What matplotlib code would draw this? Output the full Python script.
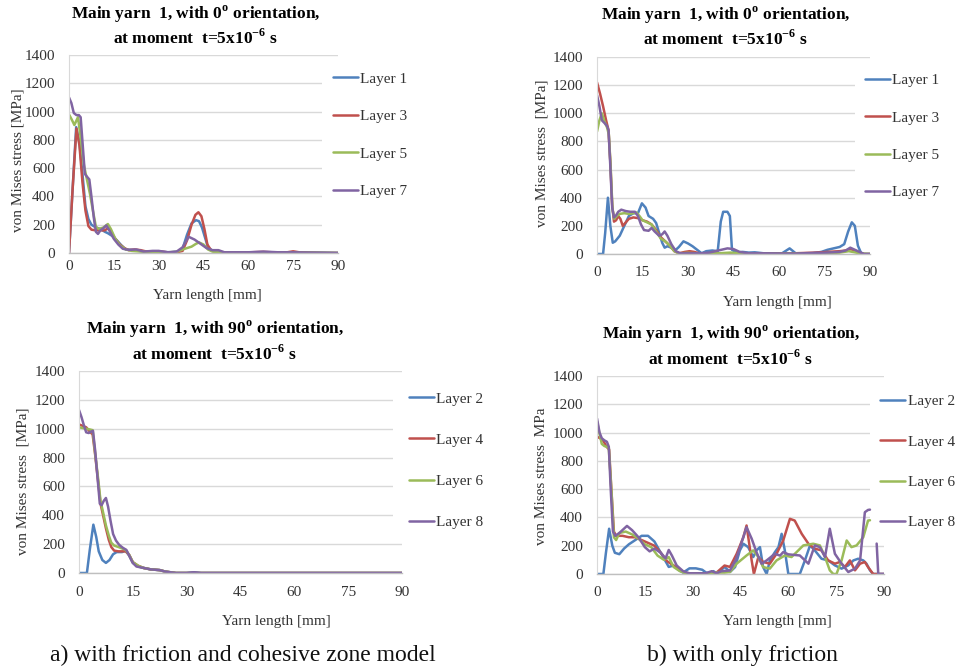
import matplotlib
matplotlib.use("Agg")
import matplotlib.pyplot as plt
from matplotlib.patches import Rectangle
import numpy as np

plt.rcParams['font.family'] = ['Liberation Serif', 'DejaVu Serif']
plt.rcParams['mathtext.fontset'] = 'custom'
plt.rcParams['mathtext.rm'] = 'Liberation Serif'
plt.rcParams['mathtext.bf'] = 'Liberation Serif:bold'

nan = np.nan

# ---------------- (a) friction + cohesive zone, 0 deg yarn ----------------
a_l1_x = [0, 1.2, 2.4, 3.5, 4.5, 5.5, 6.5, 7.5, 9, 10.5, 12, 13, 14.5, 16, 17.5, 19, 22, 25, 28, 31, 34,
          36.5, 38, 39.5, 41, 42.5, 43.5, 44.5, 45.5, 46.5, 48, 49.5, 51, 55, 60, 65, 70, 75, 80, 85, 90]
a_l1_y = [0, 450, 890, 780, 560, 330, 240, 200, 180, 170, 150, 140, 120, 90, 55, 25, 20, 10, 12, 8, 5,
          10, 30, 130, 210, 232, 225, 180, 110, 40, 15, 18, 5, 3, 3, 5, 3, 5, 3, 2, 0]
a_l3_x = [0, 1.2, 2.5, 3.5, 4.5, 5.5, 6.5, 7.5, 9, 10.5, 12, 13, 14, 15.5, 17, 18.5, 20, 22, 24, 26, 28,
          30, 33, 36, 38, 39.5, 41, 42.3, 43.3, 44.3, 45.3, 46.3, 47.5, 49, 52, 58, 65, 70, 73, 75, 77, 80, 85, 90]
a_l3_y = [0, 450, 880, 760, 500, 300, 190, 165, 160, 160, 160, 175, 150, 100, 60, 35, 20, 25, 20, 10, 8,
          12, 5, 5, 15, 90, 200, 270, 288, 260, 170, 60, 20, 10, 5, 3, 8, 3, 5, 12, 5, 2, 0, 0]
a_l5_x = [0, 1, 1.8, 3, 4, 5, 6, 7, 8, 9, 10, 11.5, 13, 14, 15.5, 17, 19, 21, 24, 27, 30, 33, 36, 38,
          39.5, 41, 42.5, 43.5, 45, 46.5, 48, 50, 55, 60, 70, 80, 90]
a_l5_y = [980, 940, 905, 960, 800, 620, 520, 420, 300, 185, 170, 180, 205, 170, 100, 55, 25, 15, 10, 5,
          5, 5, 8, 25, 35, 45, 65, 75, 60, 25, 10, 5, 3, 3, 3, 2, 0]
a_l7_x = [0, 0.8, 1.6, 2.5, 3.3, 3.9, 4.6, 5.3, 6, 6.8, 7.5, 8.3, 9, 9.7, 10.5, 11.5, 12.5, 13.5, 15,
          16.5, 18, 20, 22.5, 25, 28, 30, 33, 36, 38, 40, 42, 44, 46, 48, 50, 52, 56, 60, 65, 70, 75, 80, 90]
a_l7_y = [1100, 1060, 990, 975, 975, 960, 760, 560, 540, 520, 400, 250, 150, 135, 160, 175, 195, 160,
          100, 60, 30, 22, 25, 10, 15, 15, 5, 10, 40, 115, 95, 65, 35, 20, 20, 5, 5, 5, 10, 5, 5, 3, 0]

# ---------------- (b) friction only, 0 deg yarn ----------------
b_l1_x = [0, 2, 2.7, 3.6, 4.4, 5.2, 6, 7.5, 9, 10.5, 12, 13.5, 14.8, 16, 17, 18.5, 19.5, 20.5, 21.5,
          22.3, 23.2, 24.5, 26, 27, 28.5, 30, 31.5, 33, 34.5, 36, 38, 39.8, 40.8, 41.6, 43, 43.8, 44.5,
          46, 48, 50, 52, 55, 58, 61, 63.5, 65.5, 68, 71, 74, 76, 78, 80, 81.5, 82.8, 84, 85, 86, 87, 88, 90]
b_l1_y = [0, 0, 150, 400, 200, 80, 90, 130, 200, 270, 290, 290, 360, 330, 270, 250, 220, 150, 80,
          45, 55, 45, 30, 50, 90, 75, 55, 30, 5, 20, 25, 20, 230, 300, 300, 270, 30,
          10, 15, 10, 12, 5, 5, 5, 40, 5, 3, 5, 15, 30, 40, 50, 70, 160, 225, 200, 60, 10, 0, 0]
b_l3_x = [0, 1, 2, 3, 3.8, 4.4, 5, 5.6, 6.3, 7, 7.7, 8.5, 9.3, 10.5, 12, 13.5, 15, 16.5, 18, 19.5, 21,
          22.5, 24, 25.5, 27, 29, 30.5, 32, 34, 38, 45, 55, 65, 72, 76, 80, 82, 83.5, 85, 86.5, 88, 90]
b_l3_y = [1220, 1140, 1050, 950, 880, 650, 350, 230, 240, 270, 250, 200, 220, 250, 260, 255, 240, 230,
          210, 170, 120, 90, 60, 20, 5, 15, 20, 15, 3, 5, 5, 3, 5, 10, 15, 20, 25, 35, 25, 10, 0, 0]
b_l5_x = [0, 0.8, 1.6, 2.5, 3.3, 3.9, 4.5, 5.1, 5.7, 6.5, 7.5, 9, 10.5, 12, 13, 14, 15, 16.5, 18, 19.5,
          21, 22.5, 24, 25.5, 27, 30, 35, 40, 44, 48, 55, 65, 75, 80, 83, 85, 87, 90]
b_l5_y = [870, 950, 1000, 940, 900, 850, 620, 320, 250, 270, 285, 290, 285, 290, 295, 270, 240, 225,
          210, 160, 110, 90, 60, 20, 5, 8, 3, 5, 10, 5, 3, 3, 5, 10, 20, 12, 3, 0]
b_l7_x = [0, 0.8, 1.6, 2.5, 3.3, 3.8, 4.4, 5, 5.6, 6.3, 7, 8, 9.5, 11, 12.5, 13.5, 14.5, 15.5, 17, 18,
          19, 20.5, 21.5, 22.3, 23.2, 24.5, 26, 27.5, 30, 34, 37, 39, 41, 43, 45, 47, 50, 55, 65, 72, 76,
          80, 82, 83.5, 85, 86.5, 88, 90]
b_l7_y = [1130, 1050, 950, 930, 910, 880, 620, 330, 260, 275, 300, 315, 305, 300, 300, 270, 210, 170,
          165, 185, 160, 130, 140, 160, 130, 70, 20, 5, 5, 5, 10, 20, 30, 40, 35, 15, 5, 5, 3, 8, 10,
          15, 25, 45, 30, 15, 0, 0]

# ---------------- (a) friction + cohesive zone, 90 deg yarn ----------------
c_l2_x = [0, 2.2, 3, 4, 4.8, 5.5, 6.5, 7.5, 8.5, 9.5, 10.5, 12, 13, 14, 15, 16.5, 18, 20, 22.5, 24,
          25.5, 27, 30, 32, 34, 36, 45, 60, 75, 90]
c_l2_y = [0, 0, 160, 335, 250, 150, 90, 70, 90, 130, 145, 145, 155, 120, 70, 45, 35, 25, 20, 10,
          5, 0, 0, 5, 0, 0, 0, 0, 0, 0]
c_l4_x = [0, 1, 2, 3, 3.8, 4.5, 5.3, 6, 6.8, 7.5, 8.3, 9, 9.8, 11, 12, 13, 14, 15, 16.5, 18, 20,
          22.5, 24, 25.5, 27, 30, 35, 45, 60, 75, 90]
c_l4_y = [1030, 1020, 1010, 980, 960, 820, 640, 480, 390, 310, 230, 180, 155, 150, 150, 150, 125, 75,
          50, 35, 25, 20, 10, 5, 0, 0, 0, 0, 0, 0, 0]
c_l6_x = [0, 1, 2, 3, 3.8, 4.5, 5.3, 6, 6.8, 7.5, 8.3, 9, 9.8, 11, 12, 13, 14, 15, 16.5, 18, 20,
          22.5, 24, 25.5, 27, 30, 35, 45, 60, 75, 90]
c_l6_y = [1010, 1005, 1000, 995, 990, 830, 660, 500, 410, 330, 260, 210, 190, 180, 170, 160, 125, 75,
          50, 35, 25, 20, 10, 5, 0, 0, 0, 0, 0, 0, 0]
c_l8_x = [0, 0.7, 1.4, 2, 2.7, 3.4, 3.9, 4.5, 5.2, 5.8, 6.3, 6.9, 7.5, 8.1, 8.8, 9.5, 10.3, 11.2,
          12.2, 13.2, 14, 15, 16, 18, 20, 22.5, 24, 25.5, 27, 30, 32, 34, 36, 45, 60, 75, 90]
c_l8_y = [1130, 1080, 1020, 975, 970, 980, 985, 850, 650, 480, 470, 500, 520, 460, 360, 270, 225, 195,
          175, 160, 120, 70, 45, 35, 25, 20, 10, 5, 0, 0, 5, 0, 0, 0, 0, 0, 0]

# ---------------- (b) friction only, 90 deg yarn ----------------
d_l2_x = [0, 2, 2.8, 3.8, 4.8, 5.6, 7, 8.5, 10, 12, 14, 16, 18, 19.5, 20.5, 21.5, 22.5, 24, 25.5, 27,
          29, 31, 33, 34.2, 35.5, 36.5, 37.5, 39, 40, 41, 41.7, 43.3, 44.8, 45.9, 47.4, 49, 50, 51.1,
          52.1, 53.2, 54.2, 55.8, 56.9, 57.9, 58.9, 60, 63.6, 65.2, 66.8, 68.3, 70.4, 72.5, 74.6, 76.7,
          78.8, 80.4, 81.9, 83.5, 84.5, 85.6, 86.6, 90]
d_l2_y = [0, 0, 150, 320, 200, 150, 140, 180, 210, 240, 270, 270, 230, 170, 130, 90, 50, 60, 30, 10,
          40, 40, 30, 10, 5, 20, 5, 30, 50, 30, 14, 49, 167, 214, 190, 120, 167, 190,
          49, 0, 96, 155, 190, 284, 167, 0, 0, 96, 202, 167, 108, 96, 61, 38,
          61, 96, 108, 96, 73, 26, 0, 0]
d_l4_x = [0, 1, 2, 3, 3.8, 4.5, 5.3, 6, 8, 10, 12, 14, 16, 18, 20, 22, 24, 26, 28, 30, 35, 37, 38.5,
          40, 41.7, 43.8, 45.9, 46.9, 48.5, 49.2, 50.6, 52.1, 54.2, 56.3, 58.4, 60.5, 62, 64.2, 66.3,
          68.3, 70.4, 72.5, 74.6, 76.2, 77.7, 79.3, 80.9, 82.5, 84, 85, 86.6, 90]
d_l4_y = [970, 960, 940, 900, 880, 600, 300, 270, 270, 260, 260, 240, 220, 200, 150, 90, 60, 30, 5, 5,
          5, 0, 30, 60, 50, 143, 260, 343, 96, 0, 120, 85, 73, 143, 237, 390, 378, 284, 214,
          179, 167, 96, 73, 85, 49, 96, 26, 73, 85, 49, 0, 0]
d_l6_x = [0, 0.8, 1.5, 2.3, 3, 3.7, 4.5, 5.3, 6, 7, 9, 11, 13, 15, 17, 19, 21, 22.5, 24, 26, 28, 31,
          35, 38, 40, 41.7, 43.8, 46.9, 49, 50.6, 52.1, 54.2, 56.3, 58.9, 61, 62.6, 64.7, 67.8, 69.9,
          71.5, 73, 74.1, 75.1, 76.7, 78.3, 79.8, 81.4, 83.5, 85, 85.6]
d_l6_y = [1080, 990, 920, 905, 900, 890, 600, 260, 240, 290, 300, 280, 250, 210, 190, 130, 100, 120,
          50, 20, 5, 5, 5, 10, 10, 14, 73, 131, 167, 120, 49, 38, 96, 131, 120, 155, 202, 214, 202,
          120, 26, 0, 0, 96, 237, 190, 202, 260, 378, 380]
d_l8_x = [0, 0.8, 1.5, 2.3, 3.1, 3.7, 4.3, 5, 5.7, 7, 9.4, 11, 13, 15, 16.5, 18, 20, 21.5, 22.5, 23.5,
          25, 27, 29, 32, 34, 36, 37.5, 39, 41.7, 43.5, 45, 46.9, 48.5, 50, 51.6, 53.2, 55.8, 57.4,
          58.4, 60, 63.6, 66.3, 68.3, 69.9, 71.5, 73, 74.6, 76.7, 78.8, 80.9, 82.5, 84, 85, 85.6,
          nan, 87.7, 88.2, 90]
d_l8_y = [1100, 1000, 960, 945, 935, 900, 600, 300, 270, 290, 340, 310, 260, 190, 160, 180, 150, 110,
          170, 130, 60, 20, 5, 5, 5, 20, 5, 20, 25, 100, 200, 331, 250, 155, 73, 96, 143, 130,
          155, 139, 131, 73, 202, 190, 120, 320, 143, 73, 14, 38, 96, 437, 453, 455,
          nan, 215, 0, 0]

x_ticks = [0, 15, 30, 45, 60, 75, 90]
y_ticks = [0, 200, 400, 600, 800, 1000, 1200, 1400]
colors = ['#4F81BD', '#C0504D', '#9BBB59', '#8064A2']
TXT = '#333333'

W, H = 962, 670
fig = plt.figure(figsize=(W / 100, H / 100), dpi=100)


def fx(px):
    return px / W


def fy(py):
    return 1 - py / H


def panel(rect_px, series, labels, title, title_xy, ylabel, ylabel_xy, xlabel_xy,
          xpad, legend_xy, labelspacing, cover):
    x0, y0, x1, y1 = rect_px
    ax = fig.add_axes([fx(x0), fy(y1), (x1 - x0) / W, (y1 - y0) / H])
    ax.set_xlim(0, 90)
    ax.set_ylim(0, 1400)
    ax.set_xticks(x_ticks)
    ax.set_yticks(y_ticks)
    ax.yaxis.grid(True, color='#D9D9D9', lw=1.0)
    ax.set_axisbelow(True)
    for s in ('top', 'right'):
        ax.spines[s].set_visible(False)
    ax.spines['left'].set_color('#D9D9D9')
    ax.spines['bottom'].set_color('#BFBFBF')
    ax.spines['bottom'].set_linewidth(1.0)
    ax.tick_params(length=0, labelsize=11, labelcolor=TXT)
    ax.tick_params(axis='y', pad=10)
    ax.tick_params(axis='x', pad=xpad)
    # white legend backdrop hiding the right end of the inner gridlines
    ax.add_patch(Rectangle((cover[0], cover[1]), 95 - cover[0], cover[2] - cover[1],
                           facecolor='white', edgecolor='none', zorder=1, clip_on=False))
    handles = []
    for (xs, ys), c, lab in zip(series, colors, labels):
        ln, = ax.plot(xs, ys, color=c, lw=1.8, label=lab, zorder=2,
                      solid_joinstyle='round', solid_capstyle='round')
        handles.append(ln)
    fig.legend(handles=handles, loc='center left', bbox_to_anchor=(fx(legend_xy[0]), fy(legend_xy[1])),
               frameon=False, fontsize=11, labelcolor=TXT, handlelength=1.65, handletextpad=0.15,
               labelspacing=labelspacing, borderpad=0, borderaxespad=0)
    fig.text(fx(title_xy[0]), fy(title_xy[1]), title, ha='center', va='center',
             fontsize=12.5, fontweight='bold', linespacing=1.25)
    fig.text(fx(ylabel_xy[0]), fy(ylabel_xy[1]), ylabel, ha='center', va='center',
             rotation=90, fontsize=11, color=TXT)
    fig.text(fx(xlabel_xy[0]), fy(xlabel_xy[1]), 'Yarn length [mm]', ha='center', va='center',
             fontsize=11, color=TXT)
    return ax


title0 = 'Main yarn  1, with 0$^{\\mathbf{o}}$ orientation,\nat moment  t=5x10$^{\\mathbf{-6}}$ s'
title90 = 'Main yarn  1, with 90$^{\\mathbf{o}}$ orientation,\nat moment  t=5x10$^{\\mathbf{-6}}$ s'

panel((69, 55, 338, 253),
      [(a_l1_x, a_l1_y), (a_l3_x, a_l3_y), (a_l5_x, a_l5_y), (a_l7_x, a_l7_y)],
      ['Layer 1', 'Layer 3', 'Layer 5', 'Layer 7'],
      title0, (196, 25.5), 'von Mises stress [MPa]', (18, 160), (207, 295),
      5, (333, 135), 1.55, (84.6, 100, 1300))

panel((597, 57, 870, 254),
      [(b_l1_x, b_l1_y), (b_l3_x, b_l3_y), (b_l5_x, b_l5_y), (b_l7_x, b_l7_y)],
      ['Layer 1', 'Layer 3', 'Layer 5', 'Layer 7'],
      title0, (726, 26.5), 'von Mises stress  [MPa]', (542, 153.5), (777, 303),
      9, (865, 136.5), 1.55, (85.1, 300, 1300))

panel((79, 371, 402, 573),
      [(c_l2_x, c_l2_y), (c_l4_x, c_l4_y), (c_l6_x, c_l6_y), (c_l8_x, c_l8_y)],
      ['Layer 2', 'Layer 4', 'Layer 6', 'Layer 8'],
      title90, (215, 341), 'von Mises stress  [MPa]', (23, 481.5), (276, 622),
      9, (409, 460.5), 1.8, (87.5, 300, 1300))

panel((597, 376, 884, 574),
      [(d_l2_x, d_l2_y), (d_l4_x, d_l4_y), (d_l6_x, d_l6_y), (d_l8_x, d_l8_y)],
      ['Layer 2', 'Layer 4', 'Layer 6', 'Layer 8'],
      title90, (731, 346), 'von Mises stress  MPa', (542, 476.5), (777, 622),
      9, (880, 462), 1.75, (85.6, 300, 1300))

fig.text(fx(243), fy(655), 'a) with friction and cohesive zone model', ha='center', va='center',
         fontsize=17, color='#111111')
fig.text(fx(742), fy(655), 'b) with only friction', ha='center', va='center',
         fontsize=17, color='#111111')

fig.savefig('out.png', dpi=100)
